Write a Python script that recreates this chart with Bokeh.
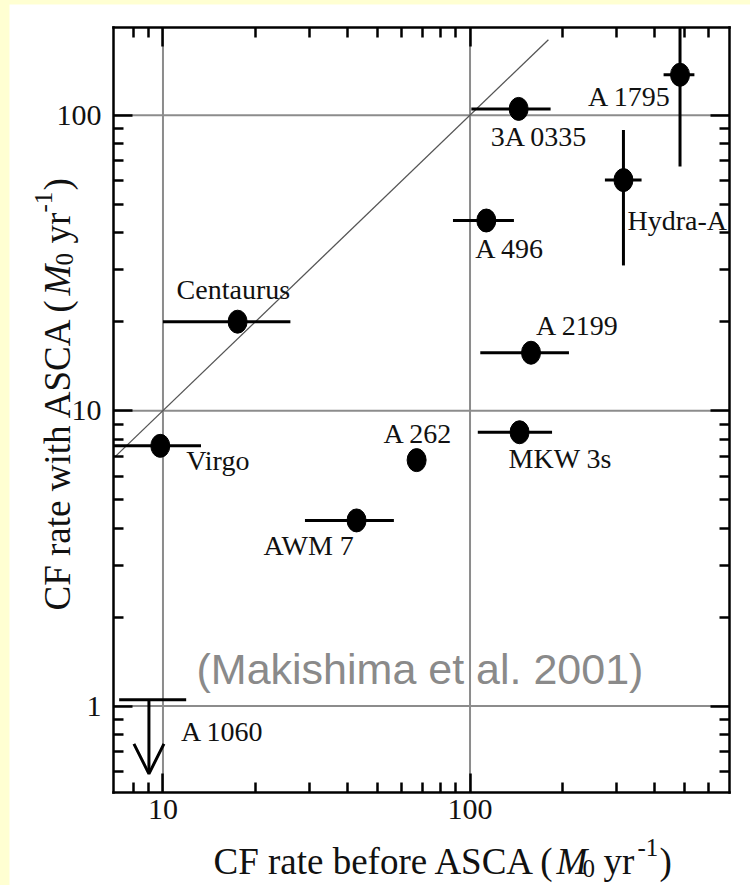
import math

from bokeh.core.properties import value
from bokeh.embed import file_html
from bokeh.layouts import column
from bokeh.models import (Arrow, ColumnDataSource, FixedTicker, Label, LabelSet,
                          LogAxis, OpenHead, PrintfTickFormatter, Range1d)
from bokeh.plotting import figure
from bokeh.resources import INLINE

# ---- cooling-flow rates of cluster cores (M0 / yr) ----
names = ["A 1795", "3A 0335", "Hydra-A", "A 496", "Centaurus",
         "A 2199", "MKW 3s", "A 262", "AWM 7", "Virgo"]
cf_before = [483, 144, 316, 113, 17.5, 158, 145, 67, 42.7, 9.8]
cf_asca = [137, 105, 60.3, 44, 20, 15.7, 8.45, 6.8, 4.25, 7.6]
before_lo = [427, 101, 275, 88, 10, 108, 106, None, 29, 6.9]
before_hi = [538, 183, 362, 139, 26, 210, 185, None, 56.5, 13.3]
asca_lo = [67, None, 31, None, None, None, None, None, None, None]
asca_hi = [198, None, 89, None, None, None, None, None, None, None]

# A 1060: upper limit only
a1060_name = "A 1060"
a1060_before = 9.0
a1060_before_lo = 7.2
a1060_before_hi = 11.9
a1060_limit = 1.05
a1060_arrow_to = 0.59

# line of equal rates
diag = [7, 180]

# axes
X_MIN, X_MAX = 6.9, 700
Y_MIN, Y_MAX = 0.51, 198
x_major = [10, 100]
x_minor = [8, 9, 20, 30, 40, 50, 60, 70, 80, 90, 200, 300, 400, 500, 600]
y_major = [1, 10, 100]
y_minor = [0.6, 0.7, 0.8, 0.9, 2, 3, 4, 5, 6, 7, 8, 9,
           20, 30, 40, 50, 60, 70, 80, 90]

x_title = "CF rate before ASCA"
y_title = "CF rate with ASCA"
note = "(Makishima et al. 2001)"

# ---- page geometry (pixels) ----
PAGE_W, PAGE_H = 750, 885
PAGE_LEFT, PAGE_TOP = 9, 4
BOX_L, BOX_T, BOX_W, BOX_H = 113, 27, 616, 765
SERIF = "Liberation Serif"
INK = "#111111"

LX0, LX1 = math.log10(X_MIN), math.log10(X_MAX)
LY0, LY1 = math.log10(Y_MIN), math.log10(Y_MAX)


def px_to_x(px):
    return 10 ** (LX0 + (px - BOX_L) / BOX_W * (LX1 - LX0))


def py_to_y(py):
    return 10 ** (LY1 - (py - BOX_T) / BOX_H * (LY1 - LY0))


def x_to_px(x):
    return BOX_L + (math.log10(x) - LX0) / (LX1 - LX0) * BOX_W


def y_to_py(y):
    return BOX_T + (LY1 - math.log10(y)) / (LY1 - LY0) * BOX_H


# the drawing area spans the whole canvas; the axes box sits inside it
p = figure(width=PAGE_W - PAGE_LEFT, height=PAGE_H - PAGE_TOP,
           x_axis_type="log", y_axis_type="log",
           x_range=Range1d(px_to_x(PAGE_LEFT), px_to_x(PAGE_W)),
           y_range=Range1d(py_to_y(PAGE_H), py_to_y(PAGE_TOP)),
           output_backend="svg", toolbar_location=None, min_border=0,
           background_fill_color="white", border_fill_color="white")
p.margin = (PAGE_TOP, 0, 0, PAGE_LEFT)
p.outline_line_color = None
p.grid.visible = False

bottom_axis = p.below[0]
left_axis = p.left[0]
top_axis = LogAxis()
right_axis = LogAxis()
p.add_layout(top_axis, "above")
p.add_layout(right_axis, "right")


def style_axis(ax, major, minor, bounds, location, labelled, standoff):
    ax.fixed_location = location
    ax.bounds = bounds
    ax.ticker = FixedTicker(ticks=major, minor_ticks=minor)
    ax.formatter = PrintfTickFormatter(format="%g")
    ax.axis_line_color = "black"
    ax.axis_line_width = 2.5
    ax.axis_line_cap = "square"
    ax.major_tick_in = 19
    ax.major_tick_out = 0
    ax.minor_tick_in = 10
    ax.minor_tick_out = 0
    ax.major_tick_line_color = "black"
    ax.minor_tick_line_color = "black"
    ax.major_tick_line_width = 2.5
    ax.minor_tick_line_width = 2.5
    ax.major_label_standoff = standoff
    if labelled:
        ax.major_label_text_font = SERIF
        ax.major_label_text_font_size = "30px"
        ax.major_label_text_color = INK
    else:
        ax.major_label_text_color = None


style_axis(bottom_axis, x_major, x_minor, (X_MIN, X_MAX), Y_MIN, True, 7)
style_axis(left_axis, y_major, y_minor, (Y_MIN, Y_MAX), X_MIN, True, 12)
style_axis(top_axis, x_major, x_minor, (X_MIN, X_MAX), Y_MAX, False, 0)
style_axis(right_axis, y_major, y_minor, (Y_MIN, Y_MAX), X_MAX, False, 0)

# decade grid lines, limited to the axes box
GRID = dict(line_color="#8c8c8c", line_width=2)
p.segment(x0=x_major, y0=[Y_MIN] * len(x_major),
          x1=x_major, y1=[Y_MAX] * len(x_major), **GRID)
p.segment(x0=[X_MIN] * len(y_major), y0=y_major,
          x1=[X_MAX] * len(y_major), y1=y_major, **GRID)

# equal-rate line
p.line(diag, diag, line_color="#555555", line_width=1.3)

# error bars
hx = [i for i in range(len(names)) if before_lo[i] is not None]
p.segment(x0=[before_lo[i] for i in hx], y0=[cf_asca[i] for i in hx],
          x1=[before_hi[i] for i in hx], y1=[cf_asca[i] for i in hx],
          line_color="black", line_width=3)
vy = [i for i in range(len(names)) if asca_lo[i] is not None]
p.segment(x0=[cf_before[i] for i in vy], y0=[asca_lo[i] for i in vy],
          x1=[cf_before[i] for i in vy], y1=[asca_hi[i] for i in vy],
          line_color="black", line_width=3)

# cluster points
p.ellipse(x=cf_before, y=cf_asca, width=19, height=23,
          width_units="screen", height_units="screen",
          fill_color="black", line_color="black")

# A 1060 upper limit
p.segment(x0=[a1060_before_lo], y0=[a1060_limit], x1=[a1060_before_hi],
          y1=[a1060_limit], line_color="black", line_width=3)
p.add_layout(Arrow(end=OpenHead(size=30, line_width=3, line_color="black"),
                   x_start=a1060_before, y_start=a1060_limit,
                   x_end=a1060_before, y_end=a1060_arrow_to,
                   line_width=3, line_color="black"))

# cluster names: pixel offsets (right, down) of text start from each point
label_dx = [-92, -28, 4, -11, -61, 5, -11, -33, -93, 26]
label_dy = [31, 37, 50, 37, -23, -18, 36, -17, 35, 24]
all_names = names + [a1060_name]
anchor_x = cf_before + [a1060_before]
anchor_y = cf_asca + [a1060_limit]
all_dx = label_dx + [32]
all_dy = label_dy + [41]
lab_x = [px_to_x(x_to_px(x) + dx) for x, dx in zip(anchor_x, all_dx)]
lab_y = [py_to_y(y_to_py(y) + dy) for y, dy in zip(anchor_y, all_dy)]
p.add_layout(LabelSet(source=ColumnDataSource(dict(x=lab_x, y=lab_y, text=all_names)),
                      x="x", y="y", text="text",
                      text_font=value(SERIF), text_font_size=value("28px"),
                      text_color=INK, text_align="left",
                      text_baseline="alphabetic"))

# citation
p.add_layout(Label(x=px_to_x(196), y=py_to_y(668), text=note,
                   text_font="Liberation Sans", text_font_size="43px",
                   text_color="#8a8a8a", text_align="left",
                   text_baseline="alphabetic"))

# axis titles built from runs: (text, style, size, x px, y px)
x_runs = [
    (x_title + " (", "normal", 37, 213, 861),
    ("M", "italic", 37, 556, 861),
    ("0", "normal", 25, 582, 868),
    ("yr", "normal", 37, 603, 861),
    ("-1", "normal", 25, 637, 847),
    (")", "normal", 37, 659, 861),
]
y_runs = [
    (y_title + " (", "normal", 37, 57, 610),
    ("M", "italic", 37, 57, 295),
    ("0", "normal", 25, 64, 265),
    ("yr", "normal", 37, 57, 243),
    ("-1", "normal", 25, 43, 212),
    (")", "normal", 37, 57, 190),
]
for runs, angle in ((x_runs, 0.0), (y_runs, math.pi / 2)):
    for txt, style, size, px, py in runs:
        p.add_layout(Label(x=px_to_x(px), y=py_to_y(py), text=txt, angle=angle,
                           text_font=SERIF, text_font_style=style,
                           text_font_size=f"{size}px", text_color=INK,
                           text_align="left", text_baseline="alphabetic"))

page = column(p, styles={"background-color": "#FFFFD2"})
open("out.html", "w").write(file_html(page, INLINE))
